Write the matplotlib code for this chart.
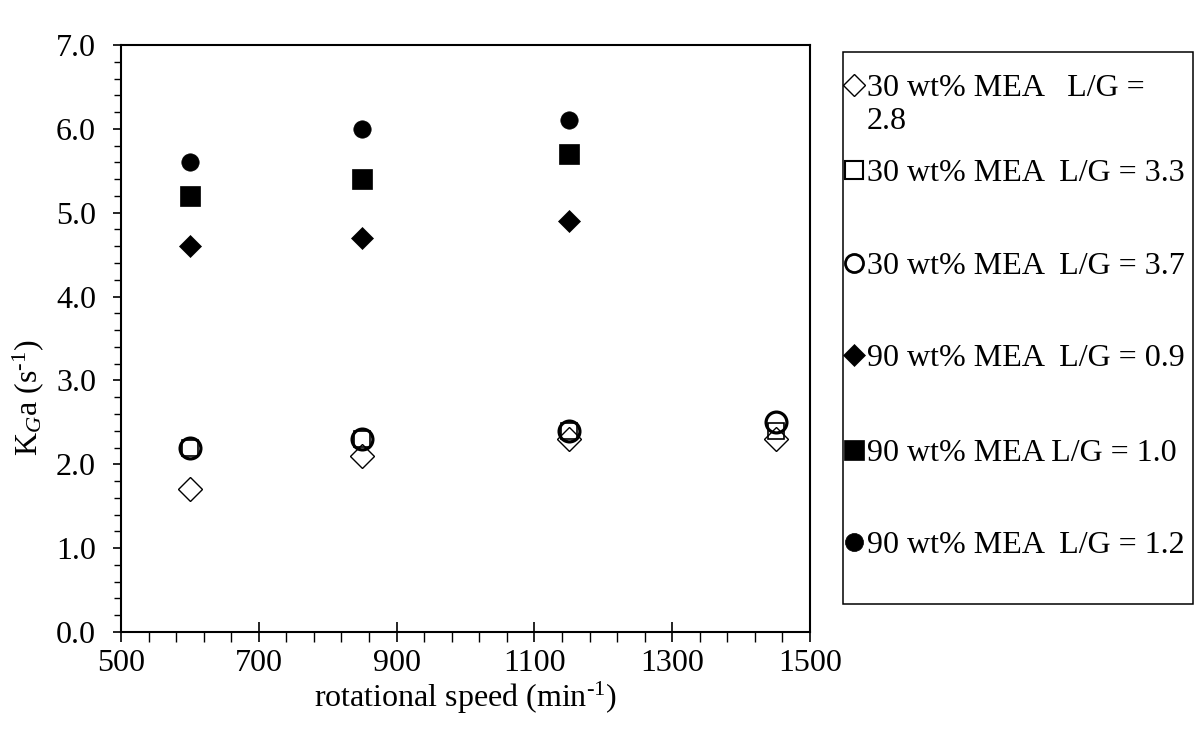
import matplotlib
matplotlib.use("Agg")
import numpy as np
import matplotlib.pyplot as plt
from matplotlib.ticker import FixedLocator, FormatStrFormatter
from matplotlib.lines import Line2D
from matplotlib.patches import Rectangle

plt.rcParams['font.family'] = ['Liberation Serif', 'DejaVu Serif']
plt.rcParams['mathtext.fontset'] = 'custom'
plt.rcParams['mathtext.rm'] = 'Liberation Serif'
plt.rcParams['mathtext.it'] = 'Liberation Serif:italic'

# ---- data ----
speed_30 = [600, 850, 1150, 1450]
speed_90 = [600, 850, 1150]
kga_30_lg28 = [1.7, 2.1, 2.3, 2.3]
kga_30_lg33 = [2.2, 2.3, 2.4, 2.4]
kga_30_lg37 = [2.2, 2.3, 2.4, 2.5]
kga_90_lg09 = [4.6, 4.7, 4.9]
kga_90_lg10 = [5.2, 5.4, 5.7]
kga_90_lg12 = [5.6, 6.0, 6.1]
x_ticks = [500, 700, 900, 1100, 1300, 1500]
y_ticks = [0, 1, 2, 3, 4, 5, 6, 7]
labels = [["30 wt% MEA   L/G =", "2.8"],
          ["30 wt% MEA  L/G = 3.3"],
          ["30 wt% MEA  L/G = 3.7"],
          ["90 wt% MEA  L/G = 0.9"],
          ["90 wt% MEA L/G = 1.0"],
          ["90 wt% MEA  L/G = 1.2"]]

FS = 23
fig = plt.figure(figsize=(11.99, 7.30), dpi=100)
ax = fig.add_axes([121/1199, 1-632/730, (810-121)/1199, (632-45)/730])

styles = [
    dict(marker='D', ms=12.0, mfc='none', mec='black', mew=1.0),
    dict(marker='s', ms=11.5, mfc='none', mec='black', mew=1.2),
    dict(marker='o', ms=15.0, mfc='none', mec='black', mew=2.3),
    dict(marker='D', ms=11.0, mfc='black', mec='black', mew=0.5),
    dict(marker='s', ms=14.0, mfc='black', mec='black', mew=0.5),
    dict(marker='o', ms=12.5, mfc='black', mec='black', mew=0.5),
]
series = [(speed_30, kga_30_lg28), (speed_30, kga_30_lg33), (speed_30, kga_30_lg37),
          (speed_90, kga_90_lg09), (speed_90, kga_90_lg10), (speed_90, kga_90_lg12)]
for (xs, ys), st in zip(series, styles):
    ax.plot(xs, ys, linestyle='none', **st)

ax.set_xlim(500, 1500)
ax.set_ylim(0, 7)
ax.xaxis.set_major_locator(FixedLocator(x_ticks))
ax.xaxis.set_minor_locator(FixedLocator(np.arange(500, 1501, 40)))
ax.yaxis.set_major_locator(FixedLocator(y_ticks))
ax.yaxis.set_minor_locator(FixedLocator(np.arange(0, 7.01, 0.2)))
ax.yaxis.set_major_formatter(FormatStrFormatter('%.1f'))
for sp in ax.spines.values():
    sp.set_linewidth(1.5)
ax.tick_params(axis='x', which='major', direction='inout', length=14, width=1.2, labelsize=FS, pad=5)
ax.tick_params(axis='x', which='minor', direction='out', length=7, width=1.0)
ax.tick_params(axis='y', which='major', direction='out', length=6, width=1.2, labelsize=FS, pad=12)
ax.tick_params(axis='y', which='minor', direction='out', length=5, width=1.0)
ax.set_xlabel('rotational speed (min$^{\\text{-}1}$)', fontsize=FS)
ax.xaxis.set_label_coords(0.5, -(698-632)/587, transform=ax.transAxes)
ax.xaxis.label.set_va('center')
ax.set_ylabel('K$_{\\mathit{G}}$a (s$^{\\text{-}1}$)', fontsize=FS)
ax.yaxis.set_label_coords(-(121-28)/689, (632-398)/587)
ax.yaxis.label.set_va('center')

# ---- legend box (manual, Excel style) ----
W, H = 1199.0, 730.0
box = Rectangle((843/W, 1-604/H), (1193-843)/W, (604-52)/H, transform=fig.transFigure,
                fill=False, edgecolor='black', linewidth=1.1)
fig.add_artist(box)
leg_y = [85, 170, 263, 355, 450, 542]
leg_st = [
    dict(ms=11.0, mew=1.0),
    dict(ms=12.5, mew=1.5),
    dict(ms=13.0, mew=2.0),
    dict(ms=11.5, mew=0.5),
    dict(ms=14.0, mew=0.5),
    dict(ms=13.0, mew=0.5),
]
for lines, yy, st, lst in zip(labels, leg_y, styles, leg_st):
    st2 = dict(st)
    st2.update(lst)
    fig.add_artist(Line2D([854/W], [1-yy/H], transform=fig.transFigure, linestyle='none', **st2))
    for k, line in enumerate(lines):
        fig.text(867/W, 1-(yy + 11 + 33*k)/H, line, fontsize=FS, ha='left', va='baseline')

fig.savefig('out.png', dpi=100)
